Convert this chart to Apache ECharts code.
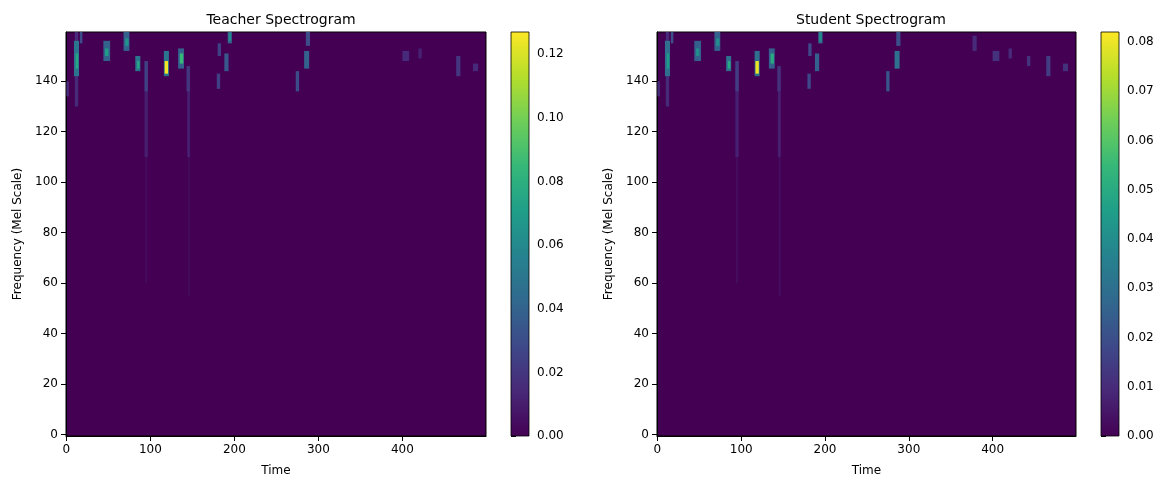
<!DOCTYPE html>
<html>
<head>
<meta charset="utf-8">
<title>Spectrogram</title>
<script src="https://cdn.jsdelivr.net/npm/echarts@6/dist/echarts.min.js"></script>
<style>
  body { margin:0; background:#fff; }
  #chart { width:1172px; height:490px; }
</style>
</head>
<body>
<div id="chart"></div>
<script type="text/javascript">
// energy patches: [time start, time end, mel low, mel high, value]; everything else is 0
var teacherPatches = [
  [10,14,130,159.5,0.015],[93,97,110,148,0.01],[94,96,60,110,0.004],
  [144,147,110,146,0.012],[145,147,55,110,0.004],[0,3,134,140,0.015],
  [9,15,142,156,0.05],[11,14,145,151,0.075],[16,19,155,159.5,0.03],
  [44,52,148,156,0.04],[46,50,150,153,0.07],
  [68,75,152,159.5,0.04],[70,74,154,157,0.065],
  [82,88,144,150,0.05],[84,87,145,148,0.075],[93,97,136,148,0.025],
  [116,122,142,152,0.05],[117,121,143,148,0.125],
  [133,140,145,153,0.04],[135,139,147,151,0.085],[143,147,136,146,0.02],
  [180,184,150,155,0.025],[179,183,137,143,0.025],[188,193,144,151,0.035],
  [192,197,155,159.5,0.04],[193,196,156,159,0.06],
  [285,290,154,159.5,0.03],[283,289,145,152,0.04],[273,277,136,144,0.03],
  [400,408,148,152,0.015],[419,423,149,153,0.012],
  [464,469,142,150,0.02],[484,490,144,147,0.015]
];
var studentPatches = [
  [10,14,130,159.5,0.01],[93,97,110,148,0.007],[94,96,60,110,0.003],
  [144,147,110,146,0.008],[145,147,55,110,0.003],[0,3,134,140,0.01],
  [9,15,142,156,0.03],[11,14,145,151,0.045],[16,19,155,159.5,0.02],
  [44,52,148,156,0.025],[46,50,150,153,0.04],
  [68,75,152,159.5,0.025],[70,74,154,157,0.04],
  [82,88,144,150,0.03],[84,87,145,148,0.05],[93,97,136,148,0.015],
  [116,122,142,152,0.03],[117,121,143,148,0.08],
  [133,140,145,153,0.025],[135,139,147,151,0.05],[143,147,136,146,0.012],
  [180,184,150,155,0.018],[179,183,137,143,0.018],[188,193,144,151,0.025],
  [192,197,155,159.5,0.03],[193,196,156,159,0.04],
  [285,290,154,159.5,0.02],[283,289,145,152,0.03],[273,277,136,144,0.022],
  [376,381,152,158,0.01],[400,408,148,152,0.012],[419,423,149,153,0.01],
  [441,445,146,150,0.012],[464,469,142,150,0.015],[484,490,144,147,0.012]
];
var timeTicks = [0,100,200,300,400];
var melTicks = [0,20,40,60,80,100,120,140];
var teacherMax = 0.127, studentMax = 0.082;
var viridis = ['#440154','#482878','#3e4989','#31688e','#26828e','#1f9e89','#35b779','#6ece58','#b5de2b','#fde725'];

var font = 'DejaVu Sans';
var myChart = echarts.init(document.getElementById('chart'));

function patchSeries(idx, data) {
  return {
    type:'custom', xAxisIndex:idx, yAxisIndex:idx, clip:true, data:data,
    renderItem:function (params, api) {
      var p0 = api.coord([api.value(0), api.value(3)]);
      var p1 = api.coord([api.value(1), api.value(2)]);
      return {type:'rect', shape:{x:p0[0], y:p0[1], width:p1[0]-p0[0], height:p1[1]-p0[1]},
        style:{fill:api.visual('color')}};
    }
  };
}
function barSeries(idx, max) {
  return {
    type:'custom', xAxisIndex:idx, yAxisIndex:idx, data:[[0,1,0,max]],
    renderItem:function (params, api) {
      var p0 = api.coord([0, max]);
      var p1 = api.coord([1, 0]);
      var stops = viridis.map(function (c, i) { return {offset:1 - i/(viridis.length-1), color:c}; });
      return {type:'rect', shape:{x:p0[0], y:p0[1], width:p1[0]-p0[0], height:p1[1]-p0[1]},
        style:{fill:new echarts.graphic.LinearGradient(0,0,0,1,stops), stroke:'#000', lineWidth:0.8}};
    }
  };
}
function plotX(g) {
  return {gridIndex:g, type:'value', min:-0.5, max:499.5, name:'Time', nameLocation:'middle', nameGap:29,
    nameTextStyle:{fontFamily:font, fontSize:12, color:'#000'},
    axisLine:{onZero:false, lineStyle:{color:'#000'}}, splitLine:{show:false},
    axisTick:{customValues:timeTicks, lineStyle:{color:'#000'}},
    axisLabel:{customValues:timeTicks, fontFamily:font, fontSize:12, color:'#000'}};
}
function plotY(g) {
  return {gridIndex:g, type:'value', min:-0.5, max:159.5, name:'Frequency (Mel Scale)', nameLocation:'middle', nameGap:42,
    nameTextStyle:{fontFamily:font, fontSize:12, color:'#000'},
    axisLine:{show:true, onZero:false, lineStyle:{color:'#000'}}, splitLine:{show:false},
    axisTick:{show:true, customValues:melTicks, lineStyle:{color:'#000'}},
    axisLabel:{customValues:melTicks, fontFamily:font, fontSize:12, color:'#000'}};
}
function barX(g) { return {gridIndex:g, type:'value', min:0, max:1, show:false}; }
function barY(g, max, step, digits) {
  return {gridIndex:g, type:'value', min:0, max:max, interval:step, position:'right',
    axisLine:{show:false}, splitLine:{show:false},
    axisTick:{show:true, lineStyle:{color:'#000'}},
    axisLabel:{fontFamily:font, fontSize:12, color:'#000', showMaxLabel:false,
      formatter:function (v) { return v.toFixed(digits); }}};
}

myChart.setOption({
  animation:false,
  title:[
    {text:'Teacher Spectrogram', left:276, top:8, textAlign:'center', textStyle:{fontFamily:font, fontSize:14, fontWeight:'normal', color:'#000'}},
    {text:'Student Spectrogram', left:866, top:8, textAlign:'center', textStyle:{fontFamily:font, fontSize:14, fontWeight:'normal', color:'#000'}}
  ],
  grid:[
    {left:66, top:32, width:420, height:404, show:true, backgroundColor:'#440154', borderColor:'#000'},
    {left:511, top:32, width:18, height:404},
    {left:657, top:32, width:419, height:404, show:true, backgroundColor:'#440154', borderColor:'#000'},
    {left:1101, top:32, width:18, height:404}
  ],
  xAxis:[plotX(0), barX(1), plotX(2), barX(3)],
  yAxis:[plotY(0), barY(1, teacherMax, 0.02, 2), plotY(2), barY(3, studentMax, 0.01, 2)],
  visualMap:[
    {show:false, type:'continuous', seriesIndex:0, dimension:4, min:0, max:teacherMax, inRange:{color:viridis}},
    {show:false, type:'continuous', seriesIndex:2, dimension:4, min:0, max:studentMax, inRange:{color:viridis}}
  ],
  series:[
    patchSeries(0, teacherPatches),
    barSeries(1, teacherMax),
    patchSeries(2, studentPatches),
    barSeries(3, studentMax)
  ]
});
</script>
</body>
</html>
